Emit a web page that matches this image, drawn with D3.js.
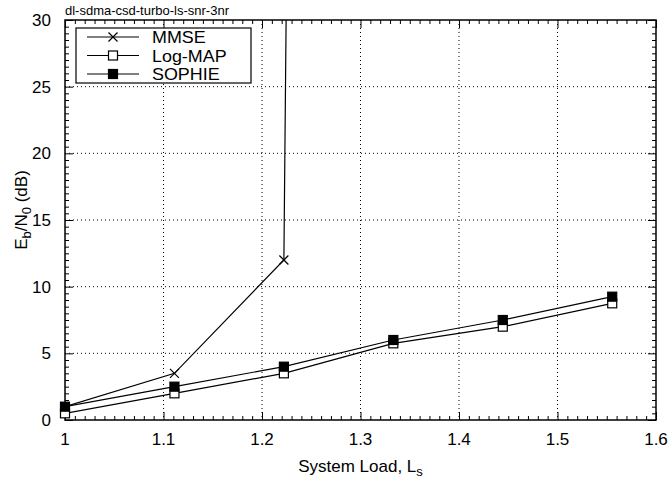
<!DOCTYPE html>
<html>
<head>
<meta charset="utf-8">
<script src="https://cdn.jsdelivr.net/npm/d3@7"></script>
<style>
  body { margin: 0; background: #fff; }
  text { font-family: "Liberation Sans", Arial, sans-serif; fill: #000; }
</style>
</head>
<body>
<div id="chart-area"></div>
<script>
// system load values (K/N)
const loads = [1, 10 / 9, 11 / 9, 12 / 9, 13 / 9, 14 / 9];
// Eb/N0 in dB; MMSE blows up after 1.22 (clipped at top of the plot)
const mmse = [1.0, 3.5, 12.0, 900];
const logmap = [0.5, 2.0, 3.5, 5.75, 7.0, 8.75];
const sophie = [1.0, 2.5, 4.0, 6.0, 7.5, 9.25];
const xTicks = [1, 1.1, 1.2, 1.3, 1.4, 1.5, 1.6];
const yTicks = [0, 5, 10, 15, 20, 25, 30];
const seriesNames = ["MMSE", "Log-MAP", "SOPHIE"];

const margin = { left: 65, right: 16, top: 20, bottom: 58 };
const W = 672, H = 478;
const width = W - margin.left - margin.right;
const height = H - margin.top - margin.bottom;

const svg = d3.select("#chart-area")
  .append("svg")
    .attr("width", W)
    .attr("height", H);

const g = svg.append("g")
  .attr("transform", "translate(" + margin.left + "," + margin.top + ")");

const x = d3.scaleLinear().domain([1, 1.6]).range([0, width]);
const y = d3.scaleLinear().domain([0, 30]).range([height, 0]);

// grid
g.selectAll(".vgrid").data(xTicks.slice(1, -1)).enter()
  .append("line")
  .attr("x1", d => x(d)).attr("x2", d => x(d))
  .attr("y1", 0).attr("y2", height)
  .attr("stroke", "#000").attr("stroke-width", 1)
  .attr("stroke-dasharray", "1,3");
g.selectAll(".hgrid").data(yTicks.slice(1, -1)).enter()
  .append("line")
  .attr("y1", d => y(d)).attr("y2", d => y(d))
  .attr("x1", 0).attr("x2", width)
  .attr("stroke", "#000").attr("stroke-width", 1)
  .attr("stroke-dasharray", "1,3");

// minor / major ticks on all four sides
const xMinor = d3.range(100, 161).map(d => d / 100);
const yMinor = d3.range(0, 61).map(d => d / 2);
const isMajorX = d => Math.abs(d * 10 - Math.round(d * 10)) < 1e-6;
const isMajorY = d => d % 5 === 0;

const xAxisB = d3.axisBottom(x).tickValues(xMinor).tickSize(-4).tickFormat("");
const xAxisT = d3.axisTop(x).tickValues(xMinor).tickSize(-4).tickFormat("");
const yAxisL = d3.axisLeft(y).tickValues(yMinor).tickSize(-4).tickFormat("");
const yAxisR = d3.axisRight(y).tickValues(yMinor).tickSize(-4).tickFormat("");

const axB = g.append("g").attr("transform", "translate(0," + height + ")").call(xAxisB);
const axT = g.append("g").call(xAxisT);
const axL = g.append("g").call(yAxisL);
const axR = g.append("g").attr("transform", "translate(" + width + ",0)").call(yAxisR);

[axB, axT, axL, axR].forEach(a => {
  a.select(".domain").remove();
  a.selectAll("line").attr("stroke", "#000");
});
axB.selectAll(".tick line").filter(d => isMajorX(d)).attr("y2", -8);
axT.selectAll(".tick line").filter(d => isMajorX(d)).attr("y2", 8);
axL.selectAll(".tick line").filter(d => isMajorY(d)).attr("x2", 8);
axR.selectAll(".tick line").filter(d => isMajorY(d)).attr("x2", -8);

// tick labels
g.selectAll(".xlab").data(xTicks).enter()
  .append("text")
  .attr("x", d => x(d))
  .attr("y", height + 25)
  .attr("text-anchor", "middle")
  .attr("font-size", "17px")
  .text(d => d3.format("")(d));
g.selectAll(".ylab").data(yTicks).enter()
  .append("text")
  .attr("x", -14)
  .attr("y", d => y(d) + 6)
  .attr("text-anchor", "end")
  .attr("font-size", "17px")
  .text(d => d);

// frame
g.append("rect")
  .attr("width", width).attr("height", height)
  .attr("fill", "none").attr("stroke", "#000").attr("stroke-width", 1.5);

// axis titles
const xt = g.append("text")
  .attr("x", width / 2)
  .attr("y", height + 52)
  .attr("text-anchor", "middle")
  .attr("font-size", "17px");
xt.append("tspan").text("System Load, L");
xt.append("tspan").attr("font-size", "13px").attr("dy", 4).text("s");

const yt = g.append("text")
  .attr("transform", "rotate(-90)")
  .attr("x", -(height / 2) + 10)
  .attr("y", -38)
  .attr("text-anchor", "middle")
  .attr("font-size", "17px");
yt.append("tspan").text("E");
yt.append("tspan").attr("font-size", "13px").attr("dy", 4).text("b");
yt.append("tspan").attr("dy", -4).text("/N");
yt.append("tspan").attr("font-size", "13px").attr("dy", 4).text("0");
yt.append("tspan").attr("dy", -4).text(" (dB)");

// title
svg.append("text")
  .attr("x", margin.left)
  .attr("y", 15)
  .attr("font-size", "13px")
  .text("dl-sdma-csd-turbo-ls-snr-3nr");

// data lines
svg.append("clipPath").attr("id", "clip")
  .append("rect").attr("width", width).attr("height", height);
const plot = g.append("g").attr("clip-path", "url(#clip)");

const line = d3.line().x(d => x(d[0])).y(d => y(d[1]));
const series = [mmse, logmap, sophie].map(v => v.map((d, i) => [loads[i], d]));

series.forEach(s => {
  plot.append("path")
    .datum(s)
    .attr("d", line)
    .attr("fill", "none")
    .attr("stroke", "#000")
    .attr("stroke-width", 1.2);
});

function drawMarker(sel, k, cx, cy) {
  if (k === 0) {
    const r = 4.5;
    sel.append("path")
      .attr("d", `M${cx - r},${cy - r}L${cx + r},${cy + r}M${cx - r},${cy + r}L${cx + r},${cy - r}`)
      .attr("stroke", "#000").attr("stroke-width", 1.2).attr("fill", "none");
  } else {
    const r = 4.5;
    sel.append("rect")
      .attr("x", cx - r).attr("y", cy - r)
      .attr("width", 2 * r).attr("height", 2 * r)
      .attr("fill", k === 2 ? "#000" : "#fff")
      .attr("stroke", "#000").attr("stroke-width", 1.2);
  }
}

series.forEach((s, k) => {
  s.filter(d => d[1] <= 30).forEach(d => drawMarker(g, k, x(d[0]), y(d[1])));
});

// legend
const lg = g.append("g").attr("transform", "translate(11,8)");
lg.append("rect")
  .attr("width", 175).attr("height", 55)
  .attr("fill", "#fff").attr("stroke", "#000").attr("stroke-width", 1.2);
seriesNames.forEach((name, k) => {
  const ry = 9 + k * 18.5;
  lg.append("line")
    .attr("x1", 11).attr("x2", 63)
    .attr("y1", ry).attr("y2", ry)
    .attr("stroke", "#000").attr("stroke-width", 1.2);
  drawMarker(lg, k, 37, ry);
  lg.append("text")
    .attr("transform", "translate(76," + (ry + 6) + ") scale(1.12,1)")
    .attr("font-size", "16px")
    .text(name);
});
</script>
</body>
</html>
